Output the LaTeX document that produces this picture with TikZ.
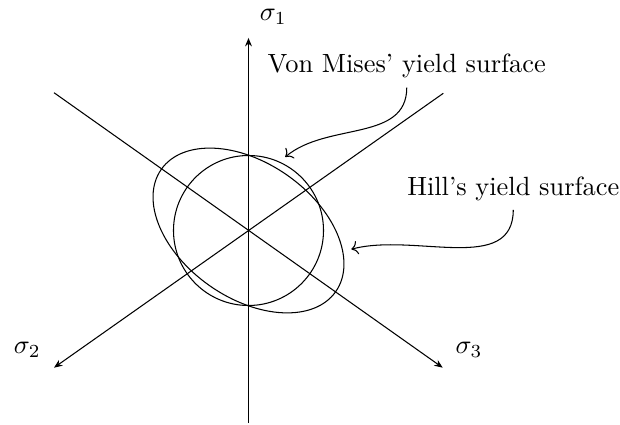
\documentclass[tikz,border=0pt]{standalone}
\usepackage{amsmath,amssymb}
\usepackage{tikz}
\usetikzlibrary{positioning,arrows.meta,calc}

\begin{document}
\begin{tikzpicture}[
  axis/.style={-{Stealth[length=3.2pt,width=2.6pt]}},
  pointer/.style={->},
  surface/.style={draw}
]
\useasboundingbox (-3.313,-2.58) rectangle (4.953,3.073);
\coordinate (O) at (0,0);
% principal stress axes
\coordinate (s1bot) at (0,-2.567);
\coordinate (s1top) at (0,2.567);
\coordinate (s3start) at (-2.593,1.837);
\coordinate (s3tip) at (2.589,-1.829);
\coordinate (s2start) at (2.597,1.829);
\coordinate (s2tip) at (-2.593,-1.829);
\draw[axis] (s1bot) -- (s1top);
\draw[axis] (s3start) -- (s3tip);
\draw[axis] (s2start) -- (s2tip);
\node (s1) at (0.33,2.85) {$\sigma_1$};
\node (s2) at (-2.95,-1.59) {$\sigma_2$};
\node (s3) at (2.94,-1.59) {$\sigma_3$};
% yield surfaces
\draw[surface] (O) circle (1);
\draw[surface, rotate=-35] (O) ellipse (1.42 and 0.9);
\node (vm) at (2.11,2.19) {Von Mises' yield surface};
\node (hill) at (3.53,0.56) {Hill's yield surface};
\coordinate (vmend) at (0.49,0.98);
\coordinate (hillend) at (1.37,-0.25);
\draw[pointer] (vm.south) to[out=-90,in=40] (vmend);
\draw[pointer] (hill.south) to[out=-90,in=15] (hillend);
\end{tikzpicture}
\end{document}
